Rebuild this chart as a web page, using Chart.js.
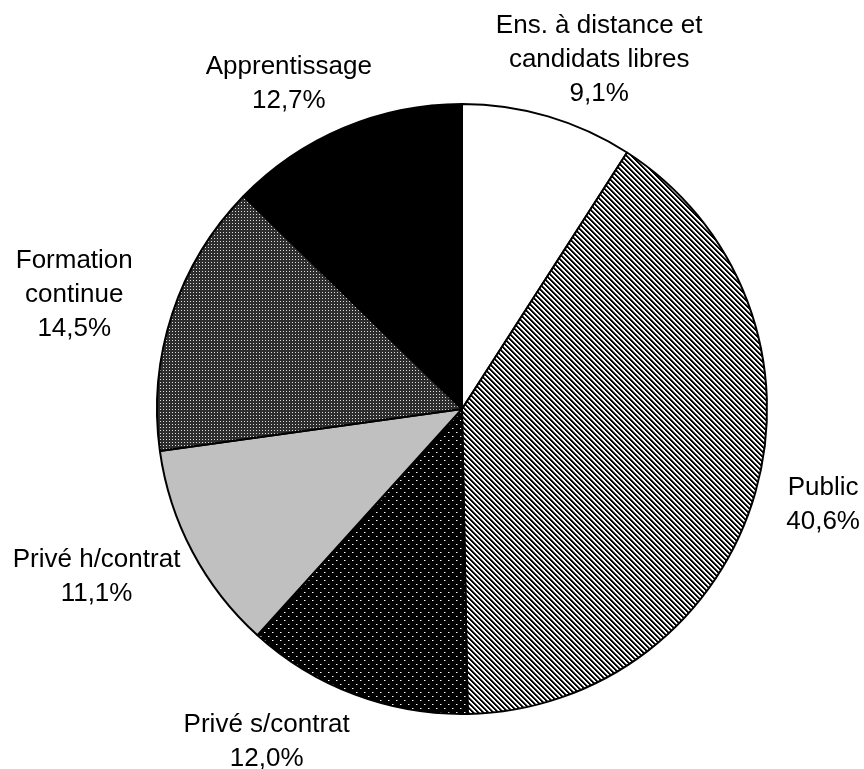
<!DOCTYPE html>
<html>
<head>
<meta charset="utf-8">
<script src="https://cdn.jsdelivr.net/npm/chart.js@4/dist/chart.umd.min.js"></script>
<style>
  html, body { margin: 0; padding: 0; background: #fff; }
  #chart { display: block; }
</style>
</head>
<body>
<canvas id="chart" width="864" height="769"></canvas>
<script>
// slice names (one line per entry) and their shares in %
var categories = [
  ["Ens. à distance et", "candidats libres"],
  ["Public"],
  ["Privé s/contrat"],
  ["Privé h/contrat"],
  ["Formation", "continue"],
  ["Apprentissage"]
];
var shares = [9.1, 40.6, 12.0, 11.1, 14.5, 12.7];

// small nudges for the outside labels, relative to the mid-angle anchor
var labelNudge = [[34, 2], [9, -4], [-67, -10], [-42, -3], [-40, 0], [-31, 12]];

function makeTile(size, paint) {
  var c = document.createElement('canvas');
  c.width = size; c.height = size;
  var g = c.getContext('2d');
  var img = g.createImageData(size, size);
  for (var y = 0; y < size; y++) {
    for (var x = 0; x < size; x++) {
      var v = paint(x, y);
      var i = (y * size + x) * 4;
      img.data[i] = v; img.data[i + 1] = v; img.data[i + 2] = v; img.data[i + 3] = 255;
    }
  }
  g.putImageData(img, 0, 0);
  return g.createPattern(c, 'repeat');
}

var ctx0 = document.getElementById('chart').getContext('2d');

// downward diagonal stripes
var hatch = makeTile(5, function (x, y) {
  var k = ((x - y) % 5 + 5) % 5;
  return k < 2 ? 0 : (k === 2 ? 110 : 255);
});
// black with sparse white dots
var dotsBlack = makeTile(8, function (x, y) {
  if ((x === 0 && y === 0) || (x === 4 && y === 4)) return 255;
  if ((x === 1 && y === 0) || (x === 5 && y === 4)) return 120;
  return 0;
});
// dark grey with fine light dots
var dotsGrey = makeTile(3, function (x, y) {
  if (x === 1 && y === 1) return 220;
  return 45;
});

var fills = ['#ffffff', hatch, dotsBlack, '#c0c0c0', dotsGrey, '#000000'];

var outsideLabels = {
  id: 'outsideLabels',
  afterDatasetsDraw: function (chart) {
    var ctx = chart.ctx;
    var meta = chart.getDatasetMeta(0);
    ctx.save();
    ctx.fillStyle = '#000';
    ctx.font = '26px "Liberation Sans", Arial, sans-serif';
    ctx.textAlign = 'center';
    ctx.textBaseline = 'middle';
    meta.data.forEach(function (arc, i) {
      var p = arc.getProps(['x', 'y', 'startAngle', 'endAngle', 'outerRadius'], true);
      var mid = (p.startAngle + p.endAngle) / 2;
      var d = p.outerRadius * 1.2;
      var cx = p.x + Math.cos(mid) * d + labelNudge[i][0];
      var cy = p.y + Math.sin(mid) * d + labelNudge[i][1];
      var lines = categories[i].concat([shares[i].toFixed(1).replace('.', ',') + '%']);
      var lh = 34;
      var top = cy - (lines.length - 1) * lh / 2;
      lines.forEach(function (t, j) {
        ctx.fillText(t, cx, top + j * lh);
      });
    });
    ctx.restore();
  }
};

new Chart(ctx0, {
  type: 'pie',
  data: {
    labels: categories,
    datasets: [{
      data: shares,
      backgroundColor: fills,
      borderColor: '#000000',
      borderWidth: 2
    }]
  },
  options: {
    responsive: false,
    animation: false,
    layout: { padding: { top: 103, bottom: 54, left: 62, right: 2 } },
    plugins: {
      legend: { display: false },
      tooltip: { enabled: false }
    }
  },
  plugins: [outsideLabels]
});
</script>
</body>
</html>
